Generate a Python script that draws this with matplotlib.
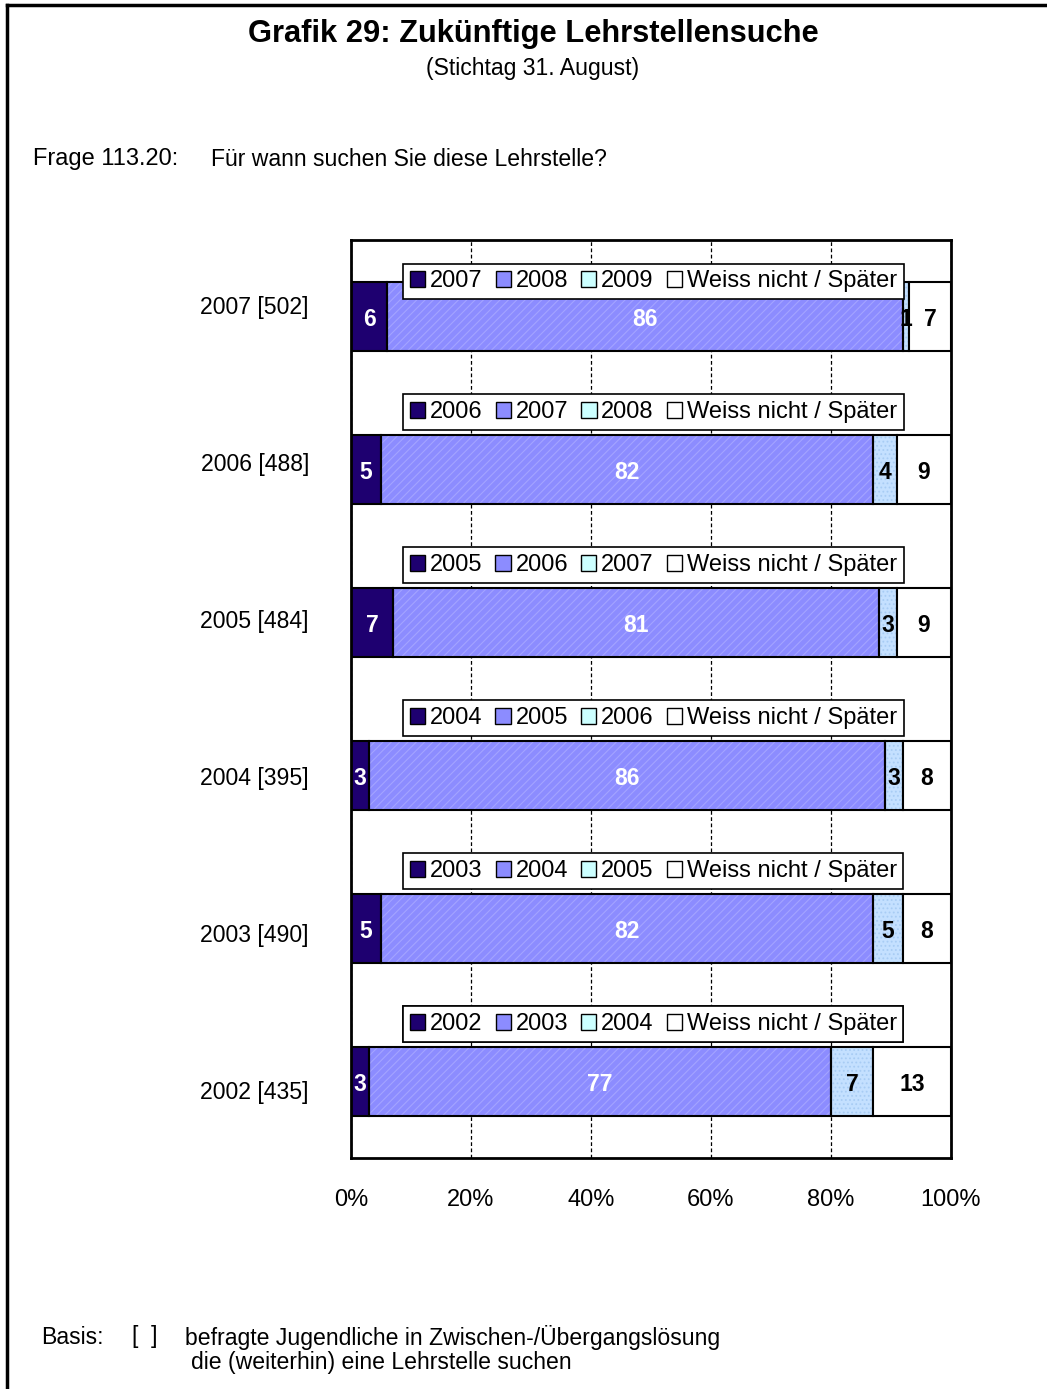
import matplotlib
matplotlib.use("Agg")
import matplotlib.pyplot as plt
import matplotlib.transforms as mtransforms
from matplotlib.patches import Patch
from matplotlib.lines import Line2D

plt.rcParams['font.family'] = ['Liberation Sans', 'DejaVu Sans']
plt.rcParams['hatch.linewidth'] = 0.8

# ---- data ----
rows = ["2007 [502]", "2006 [488]", "2005 [484]", "2004 [395]", "2003 [490]", "2002 [435]"]
row_years = [2007, 2006, 2005, 2004, 2003, 2002]
same_year = [6, 5, 7, 3, 5, 3]
next_year = [86, 82, 81, 86, 82, 77]
year_after = [1, 4, 3, 3, 5, 7]
unknown = [7, 9, 9, 8, 8, 13]
unknown_label = "Weiss nicht / Später"
xticks = [0, 20, 40, 60, 80, 100]
xtick_labels = ["0%", "20%", "40%", "60%", "80%", "100%"]

colors = ["#1E0070", "#8C8CFF", "#C4E0FF", "#FFFFFF"]
legend_colors = ["#1E0070", "#8C8CFF", "#CCFFFF", "#FFFFFF"]
label_colors = ["white", "white", "black", "black"]

fig = plt.figure(figsize=(10.47, 13.89), dpi=100)
W, H = 1047, 1389
ax = fig.add_axes([351 / W, 1 - 1158 / H, 600 / W, 918 / H])

ypos = list(range(len(rows)))
bar_h = 0.45
series = [same_year, next_year, year_after, unknown]

for i in ypos:
    left = 0
    for s_idx, s in enumerate(series):
        v = s[i]
        if s_idx == 1:
            ax.barh(i, v, left=left, height=bar_h, color=colors[s_idx],
                    edgecolor="none", linewidth=0, zorder=3)
            ax.barh(i, v, left=left, height=bar_h, color="none",
                    edgecolor="#A4A4FF", linewidth=0, hatch="////", zorder=3.1)
        elif s_idx == 2:
            ax.barh(i, v, left=left, height=bar_h, color=colors[s_idx],
                    edgecolor="none", linewidth=0, zorder=3)
            ax.barh(i, v, left=left, height=bar_h, color="none",
                    edgecolor="#A8CCF4", linewidth=0, hatch="....", zorder=3.1)
        ax.barh(i, v, left=left, height=bar_h,
                color=colors[s_idx] if s_idx in (0, 3) else "none",
                edgecolor="black", linewidth=1.5, zorder=3.2)
        ax.text(left + v / 2, i + 0.02, str(v), ha="center", va="center",
                fontsize=16.5, fontweight="bold", color=label_colors[s_idx], zorder=5)
        left += v

ax.set_xlim(0, 100)
ax.set_ylim(len(rows) - 0.5, -0.5)
ax.set_yticks([])
ax.set_xticks(xticks)
ax.set_xticklabels(xtick_labels, fontsize=17)
ax.tick_params(axis="x", length=0, pad=22)
for sp in ax.spines.values():
    sp.set_linewidth(2)
    sp.set_zorder(4)
ax.xaxis.grid(True, color="black", linestyle=(0, (3, 2)), linewidth=0.9)
ax.set_axisbelow(True)

# category labels (slightly wider spaced than the bars, as in the original)
trans = mtransforms.blended_transform_factory(fig.transFigure, ax.transData)
for i, lab in enumerate(rows):
    ax.text(309 / W, i * 1.026 - 0.056, lab, transform=trans, ha="right", va="center",
            fontsize=16.6)

# per-row legends
for i, yr in enumerate(row_years):
    labels = [str(yr), str(yr + 1), str(yr + 2), unknown_label]
    handles = [Patch(facecolor=c, edgecolor="black", linewidth=1) for c in legend_colors]
    offset = 0.229 if i == 0 else 0.376
    leg = ax.legend(handles, labels, loc="center", ncol=4,
                    bbox_to_anchor=(50.4, i - offset), bbox_transform=ax.transData,
                    fontsize=17, frameon=True, fancybox=False, framealpha=1,
                    edgecolor="black", handlelength=0.65, handleheight=0.65,
                    handletextpad=0.2, columnspacing=0.55, borderpad=0.28,
                    borderaxespad=0)
    leg.get_frame().set_linewidth(1.2)
    leg.set_zorder(6)
    ax.add_artist(leg)

# titles and notes
fig.text(533 / W, 1 - 34 / H, "Grafik 29: Zukünftige Lehrstellensuche",
         ha="center", va="center", fontsize=22.2, fontweight="bold")
fig.text(533 / W, 1 - 68 / H, "(Stichtag 31. August)", ha="center", va="center", fontsize=16.6)
fig.text(33 / W, 1 - 159 / H, "Frage 113.20:", ha="left", va="center", fontsize=17)
fig.text(211 / W, 1 - 159 / H, "Für wann suchen Sie diese Lehrstelle?", ha="left", va="center", fontsize=16.6)
fig.text(41 / W, 1 - 1337 / H, "Basis:", ha="left", va="center", fontsize=16.6)
fig.text(132 / W, 1 - 1337 / H, "[  ]", ha="left", va="center", fontsize=16.6)
fig.text(185 / W, 1 - 1337 / H, "befragte Jugendliche in Zwischen-/Übergangslösung", ha="left", va="center", fontsize=16.6)
fig.text(191 / W, 1 - 1363 / H, "die (weiterhin) eine Lehrstelle suchen", ha="left", va="center", fontsize=16.6)

# outer frame (top and left)
fig.add_artist(Line2D([7 / W, 1.0], [1 - 5 / H, 1 - 5 / H], color="black", linewidth=2.5,
                      transform=fig.transFigure))
fig.add_artist(Line2D([7 / W, 7 / W], [1 - 5 / H, 0], color="black", linewidth=2.5,
                      transform=fig.transFigure))

fig.savefig("out.png", dpi=100)
